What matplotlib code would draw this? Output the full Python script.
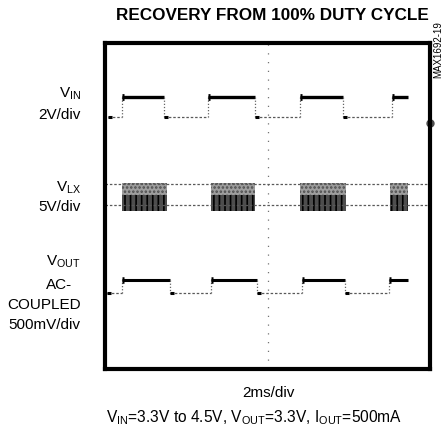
import matplotlib
matplotlib.use("Agg")
import matplotlib.pyplot as plt

plt.rcParams['font.family'] = ['Liberation Sans', 'DejaVu Sans']
plt.rcParams['mathtext.default'] = 'regular'
plt.rcParams['hatch.linewidth'] = 1.2

# scope screen is 10 x 10 divisions; values read in divisions
# V_IN step: segment start, end, level
vin_start = [0.10, 0.52, 1.82, 3.17, 4.62, 6.00, 7.32, 8.83]
vin_end   = [0.52, 1.82, 3.17, 4.62, 6.00, 7.32, 8.83, 9.32]
vin_level = [7.73, 8.34, 7.73, 8.34, 7.73, 8.34, 7.73, 8.34]

# V_LX switching bursts (start, end) and its two levels
lx_burst_start = [0.52, 3.26, 6.00, 8.77]
lx_burst_end   = [1.92, 4.60, 7.40, 9.32]
lx_hi, lx_lo = 5.67, 5.03
lx_top, lx_bot = 5.72, 4.84

# V_OUT (AC coupled) step
vout_start = [0.06, 0.52, 2.00, 3.26, 4.68, 6.06, 7.38, 8.74]
vout_end   = [0.52, 2.00, 3.26, 4.68, 6.06, 7.38, 8.74, 9.32]
vout_level = [2.33, 2.73, 2.33, 2.73, 2.33, 2.73, 2.33, 2.73]

fig = plt.figure(figsize=(4.44, 4.30), dpi=100)
ax = fig.add_axes([0.2365, 0.1419, 0.732, 0.758])
ax.set_xlim(0, 10)
ax.set_ylim(0, 10)
ax.set_xticks([])
ax.set_yticks([])
for s in ax.spines.values():
    s.set_linewidth(3.0)

# centre graticule line
ax.plot([5, 5], [0, 10], color='0.45', lw=0.9, dashes=(1, 6))


def draw_step(starts, ends, levels, hi_lw):
    hi = max(levels)
    for i, (a, b, y) in enumerate(zip(starts, ends, levels)):
        if y == hi:
            ax.plot([a, b], [y, y], color='black', lw=hi_lw, solid_capstyle='butt')
            ax.plot([a, a + 0.05], [y, y], color='black', lw=hi_lw + 2.5, solid_capstyle='butt')
        else:
            ax.plot([a, b], [y, y], color='0.35', lw=0.9, dashes=(2, 1.5))
            ax.plot([a, a + 0.12], [y, y], color='black', lw=2.2, solid_capstyle='butt')
        if i + 1 < len(starts):
            ax.plot([b, b], [y, levels[i + 1]], color='0.4', lw=0.9, dashes=(1, 1.5))


draw_step(vin_start, vin_end, vin_level, 2.4)
draw_step(vout_start, vout_end, vout_level, 2.2)

# V_LX idle levels
ax.plot([0.0, 9.9], [lx_hi, lx_hi], color='0.35', lw=0.9, dashes=(2, 1.5))
ax.plot([0.0, 9.9], [lx_lo, lx_lo], color='0.35', lw=0.9, dashes=(2, 1.5))
# V_LX switching bursts
mid = (lx_top + lx_bot) / 2 + 0.05
for a, b in zip(lx_burst_start, lx_burst_end):
    ax.fill_between([a, b], mid, lx_top, facecolor='0.62', edgecolor='0.3',
                    hatch='....', lw=0)
    ax.fill_between([a, b], lx_bot, mid, facecolor='0.3', edgecolor='black',
                    hatch='|||', lw=0)

ax.plot([10], [7.55], marker='o', ms=5, color='0.3', clip_on=False)

fig.text(0.613, 0.965, 'RECOVERY FROM 100% DUTY CYCLE', ha='center', va='center',
         fontsize=12.3, fontweight='bold')
fig.text(0.986, 0.885, 'MAX1692-19', rotation=90, ha='center', va='center', fontsize=7)

lab_x = 0.182
fig.text(lab_x, 0.782, r'V$_{IN}$', ha='right', va='center', fontsize=11)
fig.text(lab_x, 0.733, '2V/div', ha='right', va='center', fontsize=11)
fig.text(lab_x, 0.563, r'V$_{LX}$', ha='right', va='center', fontsize=11)
fig.text(lab_x, 0.519, '5V/div', ha='right', va='center', fontsize=11)
fig.text(lab_x, 0.391, r'V$_{OUT}$', ha='right', va='center', fontsize=11)
fig.text(0.162, 0.337, 'AC-', ha='right', va='center', fontsize=11)
fig.text(lab_x, 0.290, 'COUPLED', ha='right', va='center', fontsize=11)
fig.text(lab_x, 0.244, '500mV/div', ha='right', va='center', fontsize=11)

fig.text(0.604, 0.086, '2ms/div', ha='center', va='center', fontsize=11)
fig.text(0.572, 0.028, r'V$_{IN}$=3.3V to 4.5V, V$_{OUT}$=3.3V, I$_{OUT}$=500mA',
         ha='center', va='center', fontsize=11.2)

fig.savefig('out.png', dpi=100)
